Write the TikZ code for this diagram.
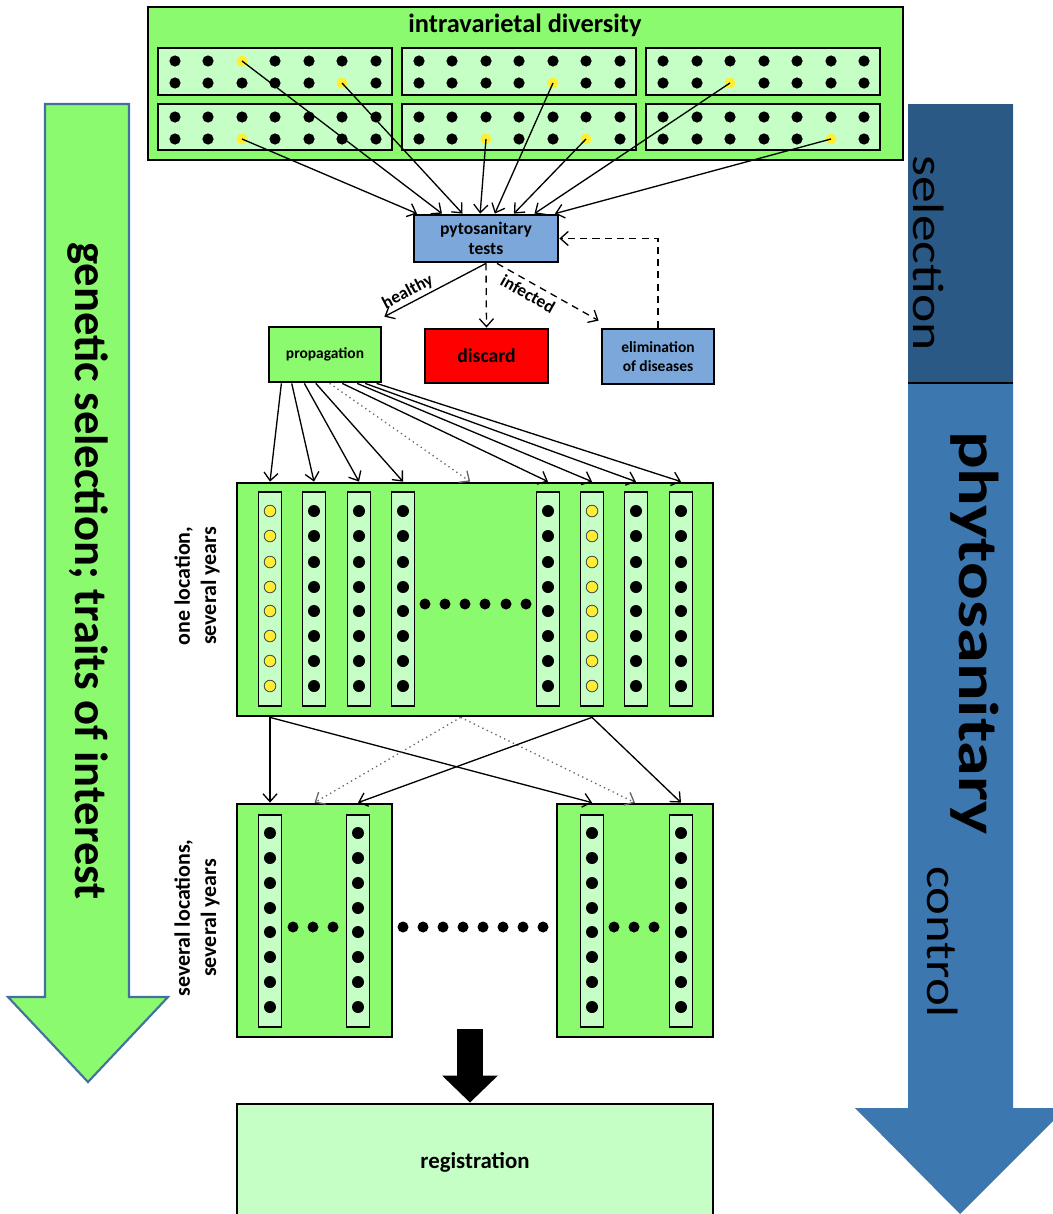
\documentclass[tikz,border=0pt]{standalone}
\usepackage{fontspec}
\setmainfont{Carlito}
\usetikzlibrary{calc,arrows.meta}

\definecolor{bedgreen}{RGB}{140,250,110}
\definecolor{rowgreen}{RGB}{198,255,198}
\definecolor{testblue}{RGB}{123,167,218}
\definecolor{selblue}{RGB}{42,89,134}
\definecolor{ctrlblue}{RGB}{61,119,176}
\definecolor{rimblue}{RGB}{65,113,156}
\definecolor{cloneyellow}{RGB}{255,238,50}

\begin{document}
\begin{tikzpicture}[x=0.02cm, y=-0.02cm,
    box/.style={draw, line width=1.6pt, inner sep=0pt, align=center},
    strip/.style={draw, line width=0.7pt, fill=rowgreen, inner sep=0pt, minimum width=0.46cm},
    clone/.style={circle, fill=cloneyellow, inner sep=0pt, minimum size=0.22cm},
    arr/.style={line width=0.75pt, -{Straight Barb[length=4.5pt,width=8pt]}},
    dashline/.style={arr, dash pattern=on 4pt off 3pt},
    dotline/.style={arr, dotted, black!60}]

\useasboundingbox (0,0) rectangle (1052,1214);

\filldraw[fill=bedgreen, draw=rimblue, line width=1.2pt] (45,104) -- (129,104) -- (129,997) -- (168,997) -- (88,1082) -- (8,997) -- (45,997) -- cycle;
\node[rotate=-90, font=\fontsize{26.5}{30}\selectfont\bfseries] (genTxt) at (88,571) {genetic selection; traits of interest};
\fill[ctrlblue] (908,104) -- (1013,104) -- (1013,1108) -- (1066,1108) -- (960,1214) -- (855,1108) -- (908,1108) -- cycle;
\fill[selblue] (908,104) rectangle (1013,383);
\draw[line width=1.7pt] (908,383) -- (1013,383);
\node[rotate=-90, font=\fontsize{25}{28}\selectfont] (selTxt) at (929,253) {\scalebox{1.22}[1]{selection}};
\node[rotate=-90, font=\fontsize{32}{36}\selectfont\bfseries] (phyTxt) at (975,633) {\scalebox{1.25}[1]{phytosanitary}};
\node[rotate=-90, font=\fontsize{25}{28}\selectfont] (ctrlTxt) at (943,942) {\scalebox{1.2}[1]{control}};

\filldraw[fill=bedgreen, line width=1.6pt] (148,7) rectangle (903,160);
\node[font=\fontsize{15}{17}\selectfont\bfseries] (poolTxt) at (525,25) {intravarietal diversity};
\filldraw[fill=rowgreen, line width=0.8pt] (158,48) rectangle (392,95);
\filldraw[fill=rowgreen, line width=0.8pt] (402,48) rectangle (636,95);
\filldraw[fill=rowgreen, line width=0.8pt] (646,48) rectangle (880,95);
\filldraw[fill=rowgreen, line width=0.8pt] (158,104) rectangle (392,150);
\filldraw[fill=rowgreen, line width=0.8pt] (402,104) rectangle (636,150);
\filldraw[fill=rowgreen, line width=0.8pt] (646,104) rectangle (880,150);
\fill (175,61) circle (5.6) (208,61) circle (5.6) (275,61) circle (5.6) (309,61) circle (5.6) (342,61) circle (5.6) (376,61) circle (5.6);
\fill (419,61) circle (5.6) (452,61) circle (5.6) (486,61) circle (5.6) (519,61) circle (5.6) (553,61) circle (5.6) (586,61) circle (5.6) (620,61) circle (5.6);
\fill (663,61) circle (5.6) (697,61) circle (5.6) (730,61) circle (5.6) (764,61) circle (5.6) (797,61) circle (5.6) (831,61) circle (5.6) (864,61) circle (5.6);
\fill (175,83) circle (5.6) (208,83) circle (5.6) (242,83) circle (5.6) (275,83) circle (5.6) (309,83) circle (5.6) (376,83) circle (5.6);
\fill (419,83) circle (5.6) (452,83) circle (5.6) (486,83) circle (5.6) (519,83) circle (5.6) (586,83) circle (5.6) (620,83) circle (5.6);
\fill (663,83) circle (5.6) (697,83) circle (5.6) (764,83) circle (5.6) (797,83) circle (5.6) (831,83) circle (5.6) (864,83) circle (5.6);
\fill (175,117) circle (5.6) (208,117) circle (5.6) (242,117) circle (5.6) (275,117) circle (5.6) (309,117) circle (5.6) (342,117) circle (5.6) (376,117) circle (5.6);
\fill (419,117) circle (5.6) (452,117) circle (5.6) (486,117) circle (5.6) (519,117) circle (5.6) (553,117) circle (5.6) (586,117) circle (5.6) (620,117) circle (5.6);
\fill (663,117) circle (5.6) (697,117) circle (5.6) (730,117) circle (5.6) (764,117) circle (5.6) (797,117) circle (5.6) (831,117) circle (5.6) (864,117) circle (5.6);
\fill (175,139) circle (5.6) (208,139) circle (5.6) (275,139) circle (5.6) (309,139) circle (5.6) (342,139) circle (5.6) (376,139) circle (5.6);
\fill (419,139) circle (5.6) (452,139) circle (5.6) (519,139) circle (5.6) (553,139) circle (5.6) (620,139) circle (5.6);
\fill (663,139) circle (5.6) (697,139) circle (5.6) (730,139) circle (5.6) (764,139) circle (5.6) (797,139) circle (5.6) (864,139) circle (5.6);
\node[clone] (g1) at (242,61) {};
\node[clone] (g2) at (342,83) {};
\node[clone] (g3) at (553,83) {};
\node[clone] (g4) at (730,83) {};
\node[clone] (g5) at (242,139) {};
\node[clone] (g6) at (486,139) {};
\node[clone] (g7) at (586,139) {};
\node[clone] (g8) at (831,139) {};

\node[box, fill=testblue, minimum width=2.88cm, minimum height=0.94cm, font=\fontsize{10}{11}\selectfont\bfseries] (tests) at (486,238.5) {pytosanitary\\tests};
\node[box, fill=bedgreen, minimum width=2.24cm, minimum height=1.1cm, font=\fontsize{8.8}{10}\selectfont\bfseries] (prop) at (325,354.5) {propagation};
\node[box, fill=red, minimum width=2.46cm, minimum height=1.08cm, font=\fontsize{11.2}{13}\selectfont\bfseries] (discard) at (486.5,356) {discard};
\node[box, fill=testblue, minimum width=2.24cm, minimum height=1.1cm, font=\fontsize{8.8}{10.5}\selectfont\bfseries] (elim) at (658,356.5) {elimination\\of diseases};

\draw[arr] (g5.center) -- ($(tests.north west)!.03!(tests.north east)$);
\draw[arr] (g1.center) -- ($(tests.north west)!.2!(tests.north east)$);
\draw[arr] (g2.center) -- ($(tests.north west)!.34!(tests.north east)$);
\draw[arr] (g6.center) -- ($(tests.north west)!.46!(tests.north east)$);
\draw[arr] (g3.center) -- ($(tests.north west)!.56!(tests.north east)$);
\draw[arr] (g7.center) -- ($(tests.north west)!.69!(tests.north east)$);
\draw[arr] (g4.center) -- ($(tests.north west)!.83!(tests.north east)$);
\draw[arr] (g8.center) -- ($(tests.north west)!.97!(tests.north east)$);

\draw[arr] (tests.south) -- ([shift={(2,-9)}]prop.north east) node[pos=.72, above, sloped, inner sep=1.5pt, font=\fontsize{10}{12}\selectfont\bfseries] {healthy};
\draw[dashline] (tests.south) -- (discard.north);
\draw[dashline] ([xshift=0.22cm]tests.south) -- ([shift={(-2,-7)}]elim.north west) node[pos=.36, below, sloped, inner sep=2.5pt, font=\fontsize{10}{12}\selectfont\bfseries] {infected};
\draw[dashline] (elim.north) |- (tests.east);

\node[box, fill=bedgreen, minimum width=9.52cm, minimum height=4.66cm] (trial) at (475,599.5) {};
\node[strip, minimum height=4.28cm] (c1) at (270,599) {};
\node[strip, minimum height=4.28cm] (c2) at (314,599) {};
\node[strip, minimum height=4.28cm] (c3) at (359,599) {};
\node[strip, minimum height=4.28cm] (c4) at (403,599) {};
\node[strip, minimum height=4.28cm] (c5) at (548,599) {};
\node[strip, minimum height=4.28cm] (c6) at (592,599) {};
\node[strip, minimum height=4.28cm] (c7) at (636,599) {};
\node[strip, minimum height=4.28cm] (c8) at (681,599) {};
\filldraw[fill=cloneyellow, draw=black!70, line width=0.5pt] (270,511) circle (5.8) (270,536) circle (5.8) (270,562) circle (5.8) (270,587) circle (5.8) (270,611) circle (5.8) (270,636) circle (5.8) (270,661) circle (5.8) (270,686) circle (5.8);
\fill (314,511) circle (6) (314,536) circle (6) (314,562) circle (6) (314,587) circle (6) (314,611) circle (6) (314,636) circle (6) (314,661) circle (6) (314,686) circle (6);
\fill (359,511) circle (6) (359,536) circle (6) (359,562) circle (6) (359,587) circle (6) (359,611) circle (6) (359,636) circle (6) (359,661) circle (6) (359,686) circle (6);
\fill (403,511) circle (6) (403,536) circle (6) (403,562) circle (6) (403,587) circle (6) (403,611) circle (6) (403,636) circle (6) (403,661) circle (6) (403,686) circle (6);
\fill (548,511) circle (6) (548,536) circle (6) (548,562) circle (6) (548,587) circle (6) (548,611) circle (6) (548,636) circle (6) (548,661) circle (6) (548,686) circle (6);
\filldraw[fill=cloneyellow, draw=black!70, line width=0.5pt] (592,511) circle (5.8) (592,536) circle (5.8) (592,562) circle (5.8) (592,587) circle (5.8) (592,611) circle (5.8) (592,636) circle (5.8) (592,661) circle (5.8) (592,686) circle (5.8);
\fill (636,511) circle (6) (636,536) circle (6) (636,562) circle (6) (636,587) circle (6) (636,611) circle (6) (636,636) circle (6) (636,661) circle (6) (636,686) circle (6);
\fill (681,511) circle (6) (681,536) circle (6) (681,562) circle (6) (681,587) circle (6) (681,611) circle (6) (681,636) circle (6) (681,661) circle (6) (681,686) circle (6);
\fill (425,604) circle (5.5) (445,604) circle (5.5) (465,604) circle (5.5) (485,604) circle (5.5) (506,604) circle (5.5) (526,604) circle (5.5);
\node[rotate=90, align=center, font=\fontsize{12.5}{15}\selectfont\bfseries] (oneLab) at (197,586) {one location,\\several years};

\draw[arr] ($(prop.south west)!.12!(prop.south east)$) -- (c1 |- trial.north);
\draw[arr] ($(prop.south west)!.21!(prop.south east)$) -- (c2 |- trial.north);
\draw[arr] ($(prop.south west)!.32!(prop.south east)$) -- (c3 |- trial.north);
\draw[arr] ($(prop.south west)!.42!(prop.south east)$) -- (c4 |- trial.north);
\draw[dotline] ($(prop.south west)!.54!(prop.south east)$) -- ($(trial.north west)!.49!(trial.north east)$);
\draw[arr] ($(prop.south west)!.65!(prop.south east)$) -- (c5 |- trial.north);
\draw[arr] ($(prop.south west)!.78!(prop.south east)$) -- (c6 |- trial.north);
\draw[arr] ($(prop.south west)!.85!(prop.south east)$) -- (c7 |- trial.north);
\draw[arr] ($(prop.south west)!.95!(prop.south east)$) -- (c8 |- trial.north);

\node[box, fill=bedgreen, minimum width=3.1cm, minimum height=4.66cm] (siteA) at (314.5,920.5) {};
\node[box, fill=bedgreen, minimum width=3.12cm, minimum height=4.66cm] (siteB) at (635,920.5) {};
\node[strip, minimum height=4.24cm] (a1) at (270,921) {};
\node[strip, minimum height=4.24cm] (a2) at (358,921) {};
\node[strip, minimum height=4.24cm] (b1) at (592,921) {};
\node[strip, minimum height=4.24cm] (b2) at (681,921) {};
\fill (270,833) circle (6) (270,858) circle (6) (270,883) circle (6) (270,908) circle (6) (270,932) circle (6) (270,957) circle (6) (270,982) circle (6) (270,1007) circle (6);
\fill (358,833) circle (6) (358,858) circle (6) (358,883) circle (6) (358,908) circle (6) (358,932) circle (6) (358,957) circle (6) (358,982) circle (6) (358,1007) circle (6);
\fill (592,833) circle (6) (592,858) circle (6) (592,883) circle (6) (592,908) circle (6) (592,932) circle (6) (592,957) circle (6) (592,982) circle (6) (592,1007) circle (6);
\fill (681,833) circle (6) (681,858) circle (6) (681,883) circle (6) (681,908) circle (6) (681,932) circle (6) (681,957) circle (6) (681,982) circle (6) (681,1007) circle (6);
\fill (293,927) circle (5.5) (313,927) circle (5.5) (333,927) circle (5.5);
\fill (614,927) circle (5.5) (634,927) circle (5.5) (654,927) circle (5.5);
\fill (403,927) circle (5.5) (423,927) circle (5.5) (443,927) circle (5.5) (463,927) circle (5.5) (483,927) circle (5.5) (503,927) circle (5.5) (523,927) circle (5.5) (543,927) circle (5.5);
\node[rotate=90, align=center, font=\fontsize{12.5}{15}\selectfont\bfseries] (sevLab) at (197,918) {several locations,\\several years};

\draw[arr] (c1 |- trial.south) -- (a1 |- siteA.north);
\draw[arr] (c1 |- trial.south) -- (b1 |- siteB.north);
\draw[dotline] ($(trial.south west)!.47!(trial.south east)$) -- (siteA.north);
\draw[dotline] ($(trial.south west)!.47!(trial.south east)$) -- (siteB.north);
\draw[arr] (c6 |- trial.south) -- (a2 |- siteA.north);
\draw[arr] (c6 |- trial.south) -- (b2 |- siteB.north);

\node[box, fill=rowgreen, minimum width=9.52cm, minimum height=2.32cm, font=\fontsize{13}{15}\selectfont\bfseries] (reg) at (475,1162) {registration};
\coordinate (feed) at (470,1029);
\draw[line width=0.52cm, -{Triangle[length=0.54cm, width=1.08cm]}] (feed) -- (feed |- reg.north);

\end{tikzpicture}
\end{document}
